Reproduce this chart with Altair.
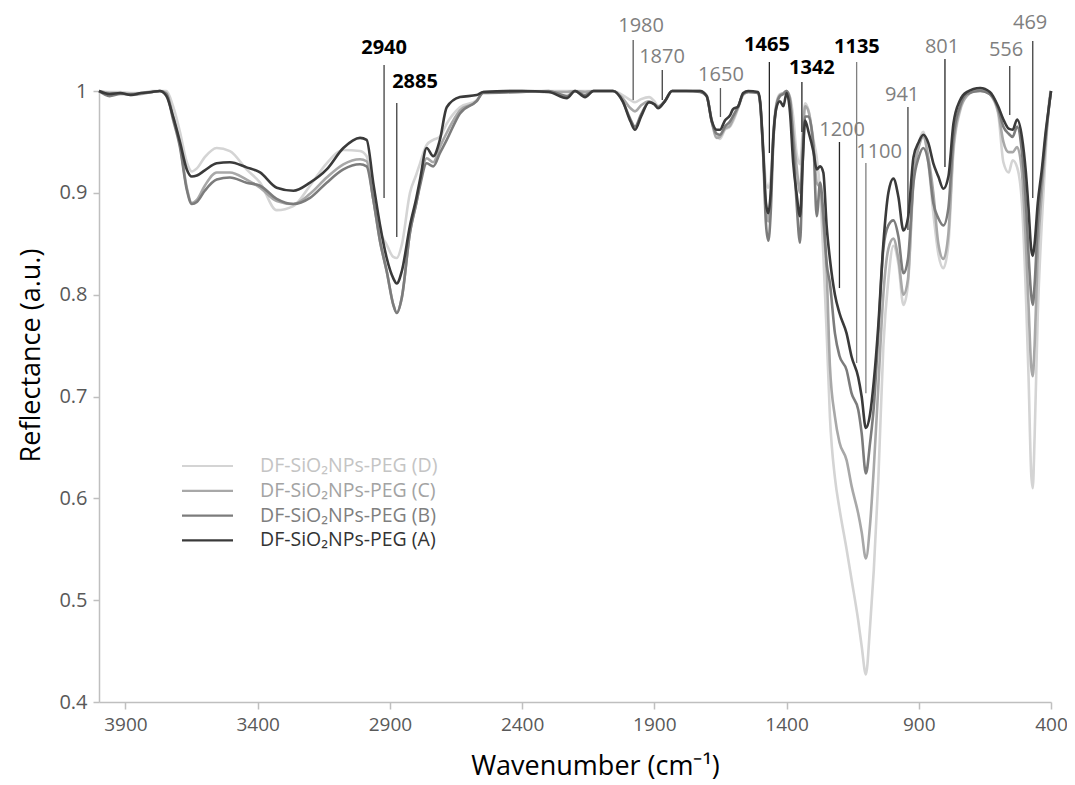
import altair as alt
import pandas as pd

# ---------------- data ----------------
wavenumber = [4000, 3960, 3920, 3880, 3840, 3800, 3770, 3745, 3720, 3694, 3668, 3649, 3630, 3600,
              3555, 3505, 3442, 3391, 3328, 3265, 3202, 3139, 3076, 3013, 2988, 2963, 2937, 2912,
              2887, 2874, 2855, 2824, 2800, 2786, 2761, 2736, 2711, 2685, 2635, 2572, 2547, 2400,
              2300, 2230, 2200, 2162, 2130, 2056, 2020, 1990, 1973, 1950, 1920, 1900, 1886, 1860,
              1833, 1780, 1727, 1702, 1683, 1664, 1652, 1633, 1614, 1603, 1583, 1564, 1545, 1508,
              1500, 1488, 1478, 1469, 1460, 1450, 1437, 1425, 1412, 1400, 1387, 1375, 1362, 1349,
              1339, 1330, 1317, 1298, 1286, 1273, 1261, 1248, 1236, 1217, 1200, 1173, 1154, 1129,
              1116, 1100, 1084, 1070, 1053, 1034, 1015, 996, 977, 958, 941, 920, 900, 883, 864,
              845, 826, 807, 788, 769, 744, 719, 668, 631, 600, 580, 560, 545, 528, 510, 495, 485,
              475, 469, 462, 450, 435, 420, 405, 400]

refl_A = [1.0, 0.997, 0.998, 0.996, 0.998, 0.999, 1.0, 0.995, 0.975, 0.950, 0.923, 0.916, 0.917, 0.922,
          0.929, 0.930, 0.925, 0.920, 0.905, 0.902, 0.910, 0.923, 0.944, 0.954, 0.952, 0.910, 0.868, 0.836,
          0.816, 0.811, 0.823, 0.868, 0.895, 0.913, 0.944, 0.936, 0.952, 0.984, 0.994, 0.996, 0.999, 1.0,
          0.999, 0.993, 1.0, 0.994, 1.0, 1.0, 0.99, 0.97, 0.962, 0.975, 0.989, 0.987, 0.983, 0.99,
          1.0, 1.0, 1.0, 0.995, 0.971, 0.962, 0.962, 0.971, 0.976, 0.982, 0.985, 0.998, 1.0, 0.999,
          0.99, 0.94, 0.89, 0.88, 0.90, 0.955, 0.985, 0.99, 0.985, 0.998, 0.979, 0.93, 0.899, 0.877,
          0.93, 0.971, 0.96, 0.94, 0.923, 0.926, 0.92, 0.866, 0.835, 0.80, 0.782, 0.762, 0.739, 0.719,
          0.70, 0.669, 0.683, 0.715, 0.77, 0.85, 0.90, 0.914, 0.896, 0.863, 0.875, 0.935, 0.95, 0.957, 0.949,
          0.929, 0.916, 0.904, 0.916, 0.968, 0.991, 0.999, 1.003, 0.999, 0.985, 0.972, 0.963, 0.962, 0.972, 0.955, 0.92, 0.885,
          0.845, 0.838, 0.85, 0.89, 0.922, 0.96, 0.99, 1.0]

refl_B = [1.0, 0.995, 0.997, 0.997, 0.998, 0.999, 1.0, 0.997, 0.972, 0.945, 0.903, 0.889, 0.891, 0.902,
          0.913, 0.915, 0.910, 0.907, 0.894, 0.889, 0.895, 0.910, 0.923, 0.928, 0.926, 0.894, 0.852, 0.823,
          0.790, 0.782, 0.797, 0.861, 0.89, 0.907, 0.929, 0.926, 0.939, 0.952, 0.978, 0.99, 0.998, 0.999,
          1.0, 0.995, 1.0, 0.996, 1.0, 1.0, 0.99, 0.972, 0.965, 0.977, 0.989, 0.987, 0.984, 0.99,
          1.0, 1.0, 0.999, 0.995, 0.970, 0.958, 0.957, 0.965, 0.970, 0.975, 0.985, 0.997, 0.999, 0.998,
          0.988, 0.935, 0.87, 0.853, 0.88, 0.95, 0.987, 0.995, 0.997, 1.0, 0.99, 0.95, 0.89, 0.851,
          0.93, 0.975, 0.975, 0.945, 0.877, 0.91, 0.88, 0.83, 0.811, 0.762, 0.74, 0.726, 0.703, 0.687,
          0.664, 0.6245, 0.655, 0.69, 0.762, 0.845, 0.868, 0.873, 0.857, 0.821, 0.835, 0.91, 0.935, 0.944, 0.93,
          0.89, 0.875, 0.868, 0.885, 0.955, 0.985, 0.997, 1.0, 0.997, 0.983, 0.965, 0.958, 0.955, 0.965, 0.94, 0.89, 0.84,
          0.80, 0.79, 0.81, 0.87, 0.915, 0.955, 0.99, 1.0]

refl_C = [1.0, 0.998, 0.998, 0.996, 0.997, 0.999, 1.0, 0.998, 0.975, 0.948, 0.905, 0.890, 0.893, 0.907,
          0.920, 0.920, 0.913, 0.905, 0.892, 0.889, 0.899, 0.915, 0.928, 0.933, 0.931, 0.894, 0.852, 0.823,
          0.790, 0.782, 0.797, 0.861, 0.89, 0.91, 0.934, 0.93, 0.945, 0.959, 0.981, 0.99, 0.999, 1.0,
          0.999, 0.999, 1.0, 0.999, 1.0, 1.0, 0.993, 0.983, 0.980, 0.986, 0.990, 0.987, 0.985, 0.99,
          1.0, 1.0, 1.0, 0.995, 0.970, 0.954, 0.955, 0.963, 0.966, 0.972, 0.984, 0.997, 0.999, 0.998,
          0.988, 0.938, 0.885, 0.872, 0.895, 0.955, 0.988, 0.996, 0.998, 1.0, 0.993, 0.96, 0.926, 0.90,
          0.95, 0.985, 0.98, 0.945, 0.91, 0.905, 0.87, 0.82, 0.73, 0.68, 0.655, 0.6375, 0.612, 0.585,
          0.567, 0.541, 0.575, 0.63, 0.71, 0.80, 0.845, 0.855, 0.835, 0.80, 0.815, 0.915, 0.945, 0.955, 0.935,
          0.90, 0.85, 0.835, 0.86, 0.945, 0.982, 0.995, 1.002, 0.997, 0.98, 0.95, 0.94, 0.94, 0.945, 0.92, 0.85, 0.79,
          0.73, 0.72, 0.75, 0.84, 0.90, 0.95, 0.99, 1.0]

refl_D = [1.0, 0.999, 0.999, 0.998, 0.998, 1.0, 1.0, 1.0, 0.985, 0.960, 0.930, 0.921, 0.924, 0.935,
          0.944, 0.941, 0.923, 0.910, 0.883, 0.887, 0.907, 0.929, 0.942, 0.941, 0.936, 0.894, 0.862, 0.849,
          0.837, 0.836, 0.849, 0.900, 0.918, 0.929, 0.947, 0.952, 0.955, 0.968, 0.984, 0.991, 0.999, 1.0,
          1.0, 1.0, 1.0, 1.0, 1.0, 1.0, 0.996, 0.991, 0.989, 0.992, 0.994, 0.99, 0.985, 0.99,
          1.0, 1.0, 1.0, 0.996, 0.972, 0.957, 0.953, 0.962, 0.965, 0.970, 0.983, 0.996, 0.999, 0.998,
          0.99, 0.945, 0.91, 0.905, 0.915, 0.96, 0.99, 0.997, 0.998, 1.0, 0.994, 0.975, 0.939, 0.928,
          0.96, 0.988, 0.981, 0.952, 0.935, 0.90, 0.84, 0.76, 0.68, 0.62, 0.59, 0.55, 0.52, 0.48,
          0.455, 0.427, 0.475, 0.53, 0.618, 0.749, 0.815, 0.848, 0.83, 0.79, 0.81, 0.91, 0.948, 0.96, 0.93,
          0.88, 0.84, 0.826, 0.85, 0.94, 0.98, 0.995, 1.003, 0.997, 0.978, 0.93, 0.92, 0.932, 0.925, 0.89, 0.80, 0.72,
          0.625, 0.61, 0.66, 0.78, 0.87, 0.94, 0.995, 1.0]

series_names = ["DF-SiO₂NPs-PEG (D)", "DF-SiO₂NPs-PEG (C)", "DF-SiO₂NPs-PEG (B)", "DF-SiO₂NPs-PEG (A)"]
series_values = [refl_D, refl_C, refl_B, refl_A]
series_colors = ["#d4d4d4", "#a8a8a8", "#7c7c7c", "#3a3a3a"]
legend_text_colors = ["#c4c4c4", "#a3a3a3", "#7f7f7f", "#333333"]

x_ticks = [3900, 3400, 2900, 2400, 1900, 1400, 900, 400]
y_ticks = [0.4, 0.5, 0.6, 0.7, 0.8, 0.9, 1.0]

# annotations: label, bold, leader line x, text x / y, leader line top / bottom
ann_label = ["2940", "2885", "1980", "1870", "1650", "1465", "1342", "1200", "1135", "1100", "941", "801", "556", "469"]
ann_bold = [True, True, False, False, False, True, True, False, True, False, False, False, False, False]
ann_line_wn = [2922, 2874, 1980, 1870, 1650, 1465, 1342, 1200, 1135, 1100, 941, 801, 556, 469]
ann_text_wn = [2922, 2805, 1950, 1871, 1648, 1474, 1304, 1190, 1134, 1050, 963, 812, 570, 479]
ann_text_y = [1.0422, 1.0088, 1.0639, 1.0334, 1.0157, 1.0452, 1.0226, 0.9617, 1.0432, 0.9401, 0.9961, 1.0432, 1.0403, 1.0668]
ann_top = [1.0255, 0.9882, 1.0501, 1.0206, 1.0029, 1.0285, 1.0088, 0.9499, 1.0285, 0.9293, 0.9843, 1.0314, 1.0246, 1.0491]
ann_bottom = [0.8949, 0.8566, 0.9912, 0.9912, 0.9745, 0.9391, 0.9597, 0.8065, 0.7328, 0.7033, 0.8635, 0.9253, 0.9764, 0.8949]
ann_line_color = ["#404040", "#404040", "#595959", "#404040", "#595959", "#262626", "#262626", "#262626",
                  "#808080", "#808080", "#404040", "#262626", "#404040", "#404040"]

FONT = "Open Sans"
W, H = 952, 611

x_scale = alt.Scale(domain=[400, 4000], reverse=True, nice=False, zero=False)
y_scale = alt.Scale(domain=[0.4, 1.0], nice=False, zero=False)

x_axis = alt.Axis(values=x_ticks, format="d", title="Wavenumber (cm⁻¹)", grid=False,
                  domainColor="#bfbfbf", domainWidth=1.5, tickColor="#bfbfbf", tickWidth=1.5, tickSize=7,
                  labelFont=FONT, labelFontSize=19, labelColor="#595959", labelPadding=6,
                  labelFlush=False, labelOverlap=False,
                  titleFont=FONT, titleFontSize=27, titleFontWeight="normal", titleColor="#000000",
                  titleX=496, titleY=64, titleBaseline="middle")
y_axis = alt.Axis(values=y_ticks, format="~g", title="Reflectance (a.u.)", grid=False,
                  domainColor="#bfbfbf", domainWidth=1.5, tickColor="#bfbfbf", tickWidth=1.5, tickSize=6,
                  labelFont=FONT, labelFontSize=20, labelColor="#595959", labelPadding=6,
                  labelFlush=False, labelOverlap=False,
                  titleFont=FONT, titleFontSize=27, titleFontWeight="normal", titleColor="#000000",
                  titleX=-68, titleY=264, titleBaseline="middle")


def X(field):
    return alt.X(field, scale=x_scale, axis=x_axis)


def Y(field):
    return alt.Y(field, scale=y_scale, axis=y_axis)


layers = []
for name, vals, col in zip(series_names, series_values, series_colors):
    d = pd.DataFrame({"wn": wavenumber, "refl": vals, "idx": list(range(len(wavenumber)))})
    layers.append(
        alt.Chart(d).mark_line(color=col, strokeWidth=2.6, interpolate="monotone")
        .encode(x=X("wn:Q"), y=Y("refl:Q"), order="idx:Q")
    )

ann = pd.DataFrame({
    "label": ann_label, "bold": ann_bold, "line_wn": ann_line_wn, "text_wn": ann_text_wn,
    "text_y": ann_text_y, "top": ann_top, "bottom": ann_bottom, "lcol": ann_line_color,
})

rules = alt.Chart(ann).mark_rule(strokeWidth=1.3).encode(
    x=X("line_wn:Q"),
    y=Y("top:Q"),
    y2="bottom:Q",
    color=alt.Color("lcol:N", scale=None, legend=None),
)
texts_bold = alt.Chart(ann[ann["bold"]]).mark_text(font=FONT, fontSize=20, fontWeight="bold",
                                                    color="#000000", baseline="middle", align="center").encode(
    x=X("text_wn:Q"), y=Y("text_y:Q"), text="label:N")
texts_norm = alt.Chart(ann[~ann["bold"]]).mark_text(font=FONT, fontSize=20, color="#7f7f7f",
                                                     baseline="middle", align="center").encode(
    x=X("text_wn:Q"), y=Y("text_y:Q"), text="label:N")

# legend drawn inside the plot (pixel offsets within the plot area)
leg_layers = []
leg_y0, leg_dy = 375, 24.8
for j, (name, lc, tc) in enumerate(zip(series_names, series_colors, legend_text_colors)):
    one = pd.DataFrame({"label": [name]})
    yy = leg_y0 + j * leg_dy
    leg_layers.append(alt.Chart(one).mark_rule(color=lc, strokeWidth=2.2).encode(
        x=alt.value(83), x2=alt.value(134), y=alt.value(yy)))
    leg_layers.append(alt.Chart(one).mark_text(font=FONT, fontSize=19.5, color=tc, align="left",
                                               baseline="middle").encode(
        x=alt.value(161), y=alt.value(yy), text="label:N"))

chart = alt.layer(*layers, rules, texts_bold, texts_norm, *leg_layers).properties(
    width=W, height=H,
    background="white",
    autosize=alt.AutoSizeParams(type="none"),
    padding={"left": 91, "top": 83, "right": 16, "bottom": 82},
).configure_view(stroke=None)

chart.save("out.html", embed_options={"renderer": "svg", "actions": False})
